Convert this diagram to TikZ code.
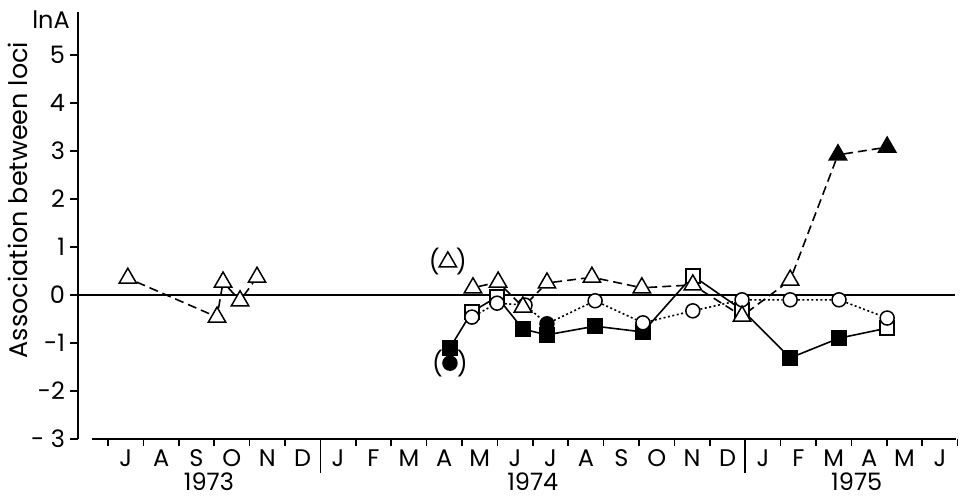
\documentclass[tikz,border=0pt]{standalone}
\usepackage{fontspec}
\setmainfont{Poppins}
\usetikzlibrary{shapes.geometric,backgrounds}
\begin{document}
\begin{tikzpicture}[x=35.4pt, y=48pt, line width=1.6pt,
  every node/.style={font=\fontsize{24}{28}\selectfont},
  mk/.style={draw, line width=1.5pt, inner sep=0pt},
  tri/.style={mk, regular polygon, regular polygon sides=3, minimum size=20pt},
  circ/.style={mk, circle, minimum size=14pt},
  sq/.style={mk, rectangle, minimum size=14pt},
  dashline/.style={dash pattern=on 9pt off 5pt},
  dotline/.style={dash pattern=on 2pt off 2.5pt}]
\useasboundingbox (-3.0508,-4.2083) rectangle (24.1243,6.1458);
% axes
\draw (-0.85,-3) -- (-0.85,5.9);
\foreach \v/\t in {5/5,4/4,3/3,2/2,1/1,0/0,-1/-1,-2/-2,-3/- 3}
  \draw (-1.07,\v) -- (-0.85,\v) node[pos=0, left=1pt] {\t};
\node (lna) at (-1.61,5.73) {lnA};
\node[rotate=90, font=\fontsize{25.5}{28}\selectfont] (ylab) at (-2.54,1.98) {Association between loci};
\draw (-0.45,-3) -- (23.95,-3);
\foreach \m in {0,...,24} \draw (\m,-3) -- ++(0,-0.15);
\foreach \m in {6,18} \draw (\m,-3) -- ++(0,-0.7);
\foreach \l [count=\i] in {J,A,S,O,N,D,J,F,M,A,M,J,J,A,S,O,N,D,J,F,M,A,M,J}
  \node[anchor=base] (m\i) at (\i-0.5,-3.58) {\l};
\node[anchor=base, inner sep=0pt, text depth=0pt] (y73) at (2.85,-4.08) {1973};
\node[anchor=base, inner sep=0pt, text depth=0pt] (y74) at (12,-4.08) {1974};
\node[anchor=base, inner sep=0pt, text depth=0pt] (y75) at (21.15,-4.08) {1975};

% data: squares, circles, triangles
\foreach \x/\y/\c [count=\i] in {9.66/-1.10/black,10.28/-0.35/white,10.99/-0.04/white,
  11.72/-0.71/black,12.40/-0.83/black,13.76/-0.65/black,15.11/-0.77/black,16.52/0.40/white,
  17.91/-0.31/white,19.27/-1.31/black,20.65/-0.90/black,22.01/-0.69/white}
  \node[sq,fill=\c] (s\i) at (\x,\y) {};
\foreach \x/\y/\c [count=\i] in {10.28/-0.46/white,10.99/-0.17/white,11.78/-0.21/white,
  12.40/-0.60/black,13.76/-0.12/white,15.11/-0.58/white,16.52/-0.33/white,17.91/-0.10/white,
  19.27/-0.10/white,20.65/-0.10/white,22.01/-0.48/white}
  \node[circ,fill=\c] (c\i) at (\x,\y) {};
\foreach \x/\y [count=\i] in {0.56/0.35,3.08/-0.46,3.25/0.27,3.73/-0.12,4.21/0.37}
  \node[tri,fill=white] (a\i) at (\x,\y) {};
\foreach \x/\y/\c [count=\i] in {10.31/0.15/white,11.02/0.27/white,11.72/-0.25/white,
  12.40/0.25/white,13.67/0.37/white,15.08/0.15/white,16.52/0.21/white,17.91/-0.44/white,
  19.27/0.31/white,20.62/2.92/black,22.01/3.08/black}
  \node[tri,fill=\c] (b\i) at (\x,\y) {};

\node (pt) at (9.6,0.69) {(\hspace{16pt})};
\node[tri,fill=white] at (pt) {};
\node (pc) at (9.66,-1.42) {(\hspace{14pt})};
\node[circ,fill=black] at (pc) {};

\begin{scope}[on background layer={line width=1.6pt}]
\draw (-0.85,0) -- (23.93,0);
\draw (s1) -- (s2) -- (s3) -- (s4) -- (s5) -- (s6) -- (s7) -- (s8) -- (s9) -- (s10) -- (s11) -- (s12);
\draw[dotline] (c1) -- (c2) -- (c3) -- (c4) -- (c5) -- (c6) -- (c7) -- (c8) -- (c9) -- (c10) -- (c11);
\draw[dashline] (a1) -- (a2) -- (a3) -- (a4) -- (a5);
\draw[dashline] (b1) -- (b2) -- (b3) -- (b4) -- (b5) -- (b6) -- (b7) -- (b8) -- (b9) -- (b10) -- (b11);
\end{scope}
\end{tikzpicture}
\end{document}
